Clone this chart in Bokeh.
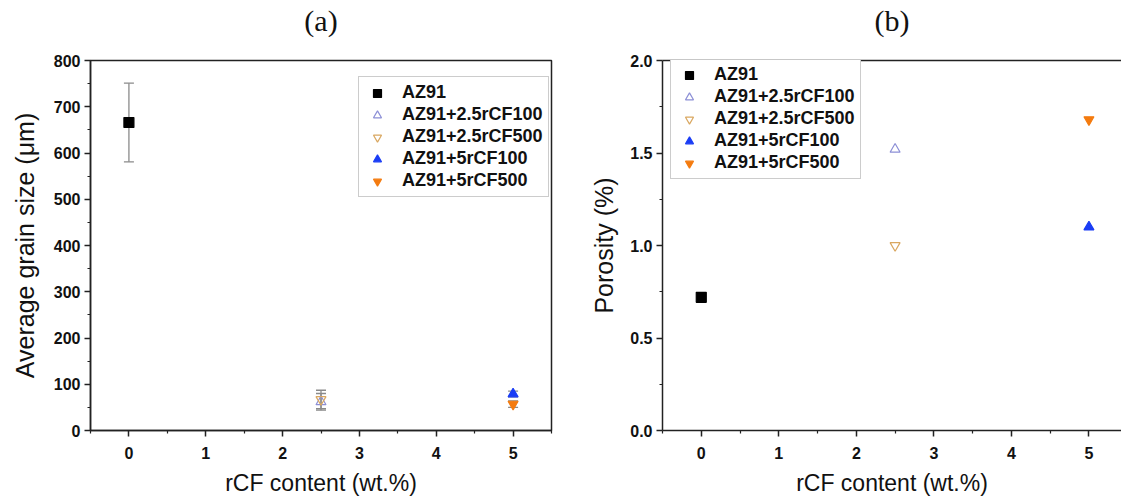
from bokeh.plotting import figure
from bokeh.layouts import row
from bokeh.models import (ColumnDataSource, Whisker, TeeHead, Range1d, LinearAxis, FixedTicker,
                          PrintfTickFormatter)
from bokeh.embed import file_html
from bokeh.resources import INLINE

# ---- data ----
series_names = ["AZ91", "AZ91+2.5rCF100", "AZ91+2.5rCF500", "AZ91+5rCF100", "AZ91+5rCF500"]
rcf_content = [0, 2.5, 2.5, 5, 5]
grain_size = [666, 62, 67, 79, 57]
grain_err = [85, 18, 20, 6, 7]
porosity = [0.72, 1.52, 1.00, 1.10, 1.68]
x_ticks = [0, 1, 2, 3, 4, 5]
grain_ticks = [0, 100, 200, 300, 400, 500, 600, 700, 800]
porosity_ticks = [0.0, 0.5, 1.0, 1.5, 2.0]
panel_titles = ["(a)", "(b)"]

# ---- styles ----
markers = ["square", "triangle", "inverted_triangle", "triangle", "inverted_triangle"]
fills = ["black", None, None, "#1a3df5", "#f47b0f"]
lines = ["black", "#8c8fd6", "#d9a760", "#1a3df5", "#f47b0f"]
sizes = [10, 10, 10, 10, 10]

SANS = "Liberation Sans"
SERIF = "Liberation Serif"


def style(p, xlabel, ylabel, yticks, ylabel_standoff):
    for ax in (p.xaxis[0], p.yaxis[0]):
        ax.axis_line_width = 1.5
        ax.axis_line_color = "#222222"
        ax.major_tick_line_color = "#222222"
        ax.minor_tick_line_color = "#222222"
        ax.major_tick_line_width = 1.5
        ax.minor_tick_line_width = 1.2
        ax.major_tick_in = 0
        ax.major_tick_out = 6
        ax.minor_tick_in = 0
        ax.minor_tick_out = 3
        ax.major_label_text_font = SANS
        ax.major_label_text_font_style = "bold"
        ax.major_label_text_font_size = "16px"
        ax.major_label_text_color = "#111111"
        ax.axis_label_text_font = SANS
        ax.axis_label_text_font_style = "normal"
        ax.axis_label_text_color = "#111111"
    p.xaxis[0].axis_label = xlabel
    p.xaxis[0].axis_label_text_font_size = "23px"
    p.xaxis[0].major_label_standoff = 10
    p.xaxis[0].axis_label_standoff = 8
    p.yaxis[0].axis_label = ylabel
    p.yaxis[0].axis_label_text_font_size = "25px"
    p.yaxis[0].major_label_standoff = 4
    p.yaxis[0].axis_label_standoff = ylabel_standoff
    p.xaxis[0].ticker = FixedTicker(ticks=x_ticks, minor_ticks=[v + 0.5 for v in [-1] + x_ticks])
    step = yticks[1] - yticks[0]
    p.yaxis[0].ticker = FixedTicker(ticks=yticks, minor_ticks=[v + step / 2 for v in yticks[:-1]])
    p.xgrid.visible = False
    p.ygrid.visible = False
    p.background_fill_color = "white"
    p.border_fill_color = "white"


def legend_style(p, loc):
    lg = p.legend[0]
    lg.location = loc
    lg.label_text_font = SANS
    lg.label_text_font_style = "bold"
    lg.label_text_font_size = "18px"
    lg.label_text_color = "#111111"
    lg.border_line_color = "#999999"
    lg.border_line_width = 1
    lg.background_fill_alpha = 1
    lg.padding = 5
    lg.margin = 0
    lg.spacing = 1
    lg.glyph_width = 26
    lg.glyph_height = 20
    lg.label_height = 20
    lg.label_width = 141
    lg.label_standoff = 12


def add_title_axis(p, text, line_color):
    ax = LinearAxis(axis_label=text, ticker=FixedTicker(ticks=[]),
                    axis_line_color=line_color, axis_line_width=1.5,
                    major_tick_line_color=None, minor_tick_line_color=None,
                    major_tick_in=0, major_tick_out=0, minor_tick_in=0, minor_tick_out=0,
                    major_label_standoff=0, axis_label_standoff=24,
                    axis_label_text_font=SERIF, axis_label_text_font_size="30px",
                    axis_label_text_font_style="normal", axis_label_text_color="#111111")
    p.add_layout(ax, "above")


# ---- (a) grain size ----
pa = figure(width=563, height=498, output_backend="svg", toolbar_location=None,
            x_range=Range1d(-0.5, 5.5), y_range=Range1d(0, 800),
            min_border_left=90, min_border_right=12, min_border_top=60, min_border_bottom=10)
pa.outline_line_color = "#222222"
pa.outline_line_width = 1.5
style(pa, "rCF content (wt.%)", "Average grain size (μm)", grain_ticks, 12)

for i, name in enumerate(series_names):
    src = ColumnDataSource(dict(x=[rcf_content[i]], y=[grain_size[i]],
                                lo=[grain_size[i] - grain_err[i]], hi=[grain_size[i] + grain_err[i]]))
    w = Whisker(base="x", lower="lo", upper="hi", source=src, line_color="#8a8a8a", line_width=1.3,
                upper_head=TeeHead(size=10, line_color="#8a8a8a", line_width=1.3),
                lower_head=TeeHead(size=10, line_color="#8a8a8a", line_width=1.3))
    pa.add_layout(w)
for i, name in enumerate(series_names):
    src = ColumnDataSource(dict(x=[rcf_content[i]], y=[grain_size[i]]))
    pa.scatter("x", "y", source=src, marker=markers[i], size=sizes[i],
               fill_color=fills[i], line_color=lines[i], line_width=1.2, legend_label=name)
legend_style(pa, (268, 233))
add_title_axis(pa, panel_titles[0], None)

# ---- (b) porosity ----
pb = figure(width=558, height=498, output_backend="svg", toolbar_location=None,
            x_range=Range1d(-0.5, 5.42), y_range=Range1d(0, 2.0),
            min_border_left=99, min_border_right=0, min_border_top=60, min_border_bottom=10)
pb.outline_line_color = None
style(pb, "rCF content (wt.%)", "Porosity (%)", porosity_ticks, 9)
pb.yaxis[0].formatter = PrintfTickFormatter(format="%.1f")

for i, name in enumerate(series_names):
    src = ColumnDataSource(dict(x=[rcf_content[i]], y=[porosity[i]]))
    pb.scatter("x", "y", source=src, marker=markers[i], size=sizes[i],
               fill_color=fills[i], line_color=lines[i], line_width=1.2, legend_label=name)
legend_style(pb, (8, 251))
add_title_axis(pb, panel_titles[1], "#222222")

layout = row(pa, pb, spacing=0)
open("out.html", "w").write(file_html(layout, INLINE))
